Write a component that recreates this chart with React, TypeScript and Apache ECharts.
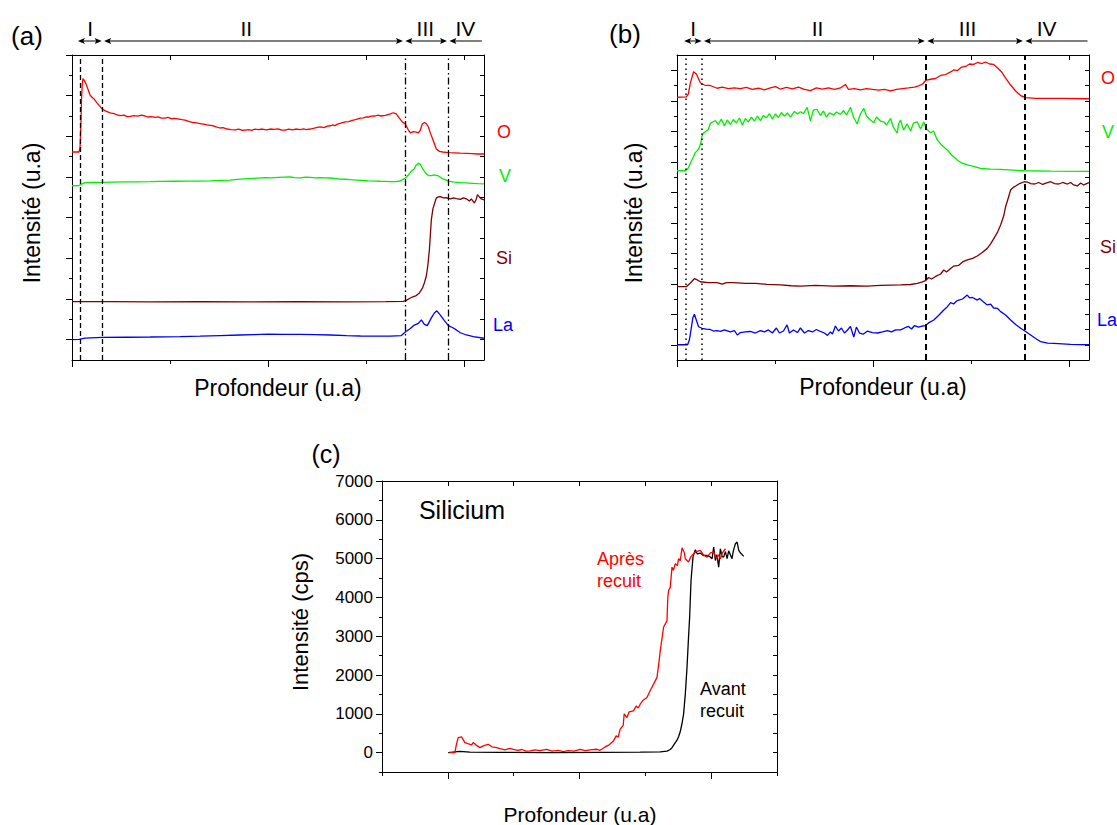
import React, { useEffect, useRef } from "react";
import * as echarts from "echarts";

const FONT = "'Liberation Sans', Arial, Helvetica, sans-serif";
const RED = "#ff0000";
const GREEN = "#00ee00";
const MAROON = "#800000";
const BLUE = "#0000ff";

// ---------- Panel (a): depth (a.u.) vs intensity (a.u., offset) ----------
const aO = [[0,10.23],[7.1,10.23],[8.2,10.45],[9.2,11.8],[9.7,12.8],[10.5,13.6],[11.2,13.84],[12.5,13.75],[14.3,13.58],[16,13.35],[18.4,13.03],[20.4,12.92],[22.4,12.84],[25.5,12.65],[28,12.5],[30.6,12.35],[34,12.25],[38.8,12.15],[43,12.12],[46,12.05],[49,12.02],[53,12.04],[56,11.97],[59.2,11.98],[63,12.02],[67,11.99],[71,12.04],[74.5,12.0],[78,11.95],[81,11.97],[84.7,11.93],[88,11.96],[91,11.9],[94.9,11.9],[98,11.93],[101,11.87],[105.1,11.88],[109,11.85],[112,11.82],[115.3,11.8],[119,11.74],[123.5,11.68],[127,11.66],[130.6,11.63],[134,11.6],[137.8,11.56],[141,11.54],[143.9,11.52],[147,11.47],[151,11.41],[154,11.43],[158.2,11.36],[162,11.33],[166.3,11.32],[170,11.35],[173,11.3],[176.5,11.31],[180,11.33],[183,11.29],[186.7,11.35],[190,11.33],[194,11.36],[198,11.32],[202,11.36],[206,11.34],[210,11.37],[214,11.31],[217.3,11.31],[221,11.35],[225,11.32],[228,11.36],[232.7,11.33],[236,11.37],[239,11.33],[242.9,11.36],[247,11.4],[250,11.44],[253.1,11.46],[257,11.43],[260,11.5],[263.3,11.52],[266,11.56],[268,11.53],[271.4,11.61],[275,11.66],[278.6,11.71],[282,11.72],[285.7,11.78],[289,11.82],[293.9,11.9],[297,11.91],[300,11.96],[302,11.95],[305,11.99],[309.2,12.0],[312,12.04],[315,12.0],[319.4,12.03],[322,12.07],[324.5,12.1],[327.6,12.16],[330.6,12.1],[333.7,11.9],[336.7,11.71],[339.8,11.61],[342.9,11.31],[344.9,11.17],[348,11.23],[351,11.21],[353.1,11.17],[355.1,11.31],[357.1,11.61],[359.2,11.68],[361.2,11.63],[363.3,11.46],[365.3,11.17],[368.4,10.77],[371.4,10.38],[374.5,10.26],[378,10.23],[383.7,10.2],[390,10.19],[395.9,10.17],[402,10.16],[408.2,10.15],[414,10.13],[420,10.13]];
const aV = [[0,8.57],[7.1,8.58],[10.2,8.66],[13.3,8.72],[20,8.73],[30.6,8.74],[40,8.75],[54.1,8.76],[65,8.76],[79.6,8.77],[90,8.78],[105.1,8.79],[118,8.8],[130.6,8.8],[141,8.81],[151,8.83],[161.2,8.85],[171.4,8.9],[183.7,8.93],[196.9,8.97],[203,8.96],[210.2,8.98],[216,8.99],[222.4,9.0],[227,8.97],[232.7,8.96],[238,8.99],[242.9,8.98],[248,8.96],[253.1,8.97],[258,8.96],[263.3,8.95],[268,8.93],[273.5,8.9],[278,8.89],[283.7,8.87],[290,8.85],[296,8.83],[302,8.81],[309.2,8.8],[314,8.79],[319.4,8.78],[324,8.77],[329.6,8.77],[333,8.79],[334.7,8.82],[337,8.87],[339.8,8.95],[342.9,9.1],[344.9,9.23],[347,9.33],[349,9.41],[351,9.59],[353.1,9.68],[355.1,9.62],[357.1,9.44],[360.2,9.21],[363.3,9.07],[366.3,9.07],[369.4,9.1],[373.5,9.05],[377.6,8.92],[383.7,8.8],[389.8,8.75],[395.9,8.72],[402,8.71],[408.2,8.69],[414,8.67],[420,8.66]];
const aSi = [[0,2.87],[40,2.87],[80,2.86],[130.6,2.87],[180,2.86],[230,2.87],[280,2.86],[320,2.87],[337.8,2.88],[340.8,2.93],[344.9,3.05],[348,3.12],[351,3.17],[354.1,3.3],[357.1,3.52],[359.2,3.79],[361.2,4.13],[362.8,4.67],[364.3,5.41],[365.3,6.15],[366.3,6.89],[367.9,7.43],[369.4,7.67],[371.4,7.97],[373.5,8.02],[375.5,8.03],[378.6,7.97],[381.6,7.99],[383.5,7.95],[385.7,7.92],[388.8,7.97],[391.8,7.94],[395.9,7.9],[399,7.97],[402,7.93],[405.1,7.82],[407.1,7.92],[410.2,7.72],[412.2,7.92],[413.3,8.13],[415.3,8.02],[417.3,7.92],[420,7.87]];
const aLa = [[0,1.0],[7.1,1.01],[13.3,1.08],[30.6,1.11],[55,1.12],[79.6,1.13],[110.2,1.15],[130.6,1.17],[151,1.2],[171.4,1.23],[185,1.25],[200,1.27],[215,1.26],[232.7,1.26],[248,1.25],[263.3,1.23],[280,1.2],[293.9,1.18],[310,1.17],[324.5,1.17],[335.7,1.2],[339.8,1.38],[344.9,1.55],[349,1.72],[353.1,1.8],[356.1,1.97],[359.2,1.75],[362.2,1.69],[366.3,2.07],[369.4,2.31],[371.9,2.42],[375.5,2.21],[379.6,1.94],[383.7,1.69],[387.8,1.6],[391.8,1.48],[395.9,1.34],[402,1.23],[409.2,1.15],[420,1.07]];
const aDashed = [8.2, 30.9];
const aDashDot = [339.8, 384];
const aRegionBounds = [4.8, 31.5, 338.6, 383.5, 419];
const aRegionLabelX = [18.4, 177.6, 360.2, 401];

// ---------- Panel (b) ----------
const bO = [[0,17.23],[9.5,17.25],[11.5,17.44],[13.6,18.16],[16.9,18.9],[19.7,18.75],[23.8,18.18],[27.9,18.03],[34,18.0],[40.8,17.82],[46.2,17.9],[52.3,17.8],[58.5,17.84],[64.6,17.8],[70.7,17.87],[76.8,17.74],[83,17.82],[89.1,17.72],[95.2,17.84],[100.3,17.93],[105.4,17.77],[111.5,17.87],[117.7,17.78],[123.8,17.9],[129.9,17.74],[136,17.67],[142.1,17.84],[148.3,17.76],[154.4,17.85],[160.5,17.74],[166.6,17.84],[171.7,18.07],[174.8,17.74],[180.9,17.8],[187,17.72],[193.2,17.8],[199.3,17.74],[205.4,17.7],[211.5,17.74],[217.7,17.64],[223.8,17.74],[229.9,17.8],[236,17.84],[242.1,17.9],[246.2,17.97],[250.3,18.1],[253.4,18.33],[258.5,18.41],[263.6,18.46],[268.7,18.66],[273.8,18.72],[278.9,18.89],[282,19.02],[286,18.98],[290.1,19.21],[294.2,19.25],[298.3,19.41],[302.4,19.38],[306.4,19.51],[310.5,19.44],[314.6,19.54],[318.7,19.41],[322.8,19.38],[326.8,19.15],[330.9,18.89],[335,18.49],[340.1,18.03],[345.2,17.64],[350.3,17.34],[355.4,17.2],[365.6,17.16],[391.1,17.15],[420,17.13]];
const bV = [[0,12.41],[8.5,12.41],[11.5,12.59],[13.6,12.9],[16.6,13.31],[18.7,13.6],[22,13.82],[24.3,14.23],[25.5,14.69],[26.8,14.87],[28.9,14.97],[31.9,15.11],[34,15.52],[37.1,15.64],[39.1,15.69],[42.1,15.44],[45.2,15.8],[48.3,15.34],[51.3,15.74],[54.4,15.44],[57.4,15.77],[60.5,15.54],[63.6,15.87],[66.6,15.41],[69.7,15.84],[72.8,15.61],[75.8,15.93],[78.9,15.67],[82,16.0],[85,15.7],[88.1,16.03],[91.1,15.87],[94.2,16.16],[97.2,15.8],[100.3,16.13],[103.4,15.9],[106.4,16.23],[109.5,16.0],[112.6,16.2],[115.6,15.93],[119.7,16.3],[122.8,16.13],[125.8,16.28],[128.9,16.16],[132.7,16.57],[136,15.69],[139.1,16.39],[142.8,16.43],[146.2,16.03],[149.3,16.33],[152.3,15.93],[155.4,16.2],[159.5,16.07],[162.6,16.26],[166.6,16.1],[169.7,16.36],[172.8,16.07],[176.8,16.57],[179.9,15.93],[183.6,15.48],[187,16.13],[190.4,16.5],[193.2,16.0],[197.2,15.74],[200.6,15.56],[203.4,15.93],[207.4,15.67],[210.8,15.62],[213.6,15.41],[217.7,15.84],[220.7,15.25],[224.5,14.87],[225.8,15.48],[227.9,15.74],[230.9,15.08],[234.7,15.48],[238.1,15.02],[241.1,15.54],[244.9,15.62],[248.3,15.15],[251.6,15.61],[254.4,15.15],[258.5,14.9],[261.5,15.02],[265.3,14.43],[269.7,14.1],[275.5,13.77],[280,13.44],[285.7,13.11],[290.1,12.92],[295.9,12.79],[301.3,12.72],[309.5,12.57],[319.7,12.52],[329.9,12.5],[353.7,12.41],[381,12.39],[420,12.37]];
const bSi = [[0,4.81],[9.5,4.81],[13.6,5.05],[17.7,5.33],[20.7,5.25],[23.8,5.13],[31.9,5.08],[40.8,5.07],[46.2,4.98],[50.3,5.08],[57.4,5.07],[69.7,5.02],[79.9,5.03],[91.8,4.96],[105.4,4.92],[116.5,4.87],[125.8,4.85],[141.1,4.89],[159.5,4.85],[176.8,4.87],[193.7,4.85],[207.4,4.89],[227.9,4.92],[238.1,4.95],[244.9,5.03],[249.3,5.11],[253.4,5.2],[256.4,5.41],[259.5,5.31],[263.6,5.48],[268.7,5.64],[271.9,5.9],[274.8,5.77],[278.9,6.0],[282.2,6.16],[287,6.2],[291.1,6.43],[295.9,6.56],[301.3,6.66],[306.1,6.82],[310.5,7.02],[316.3,7.32],[319.7,7.61],[323.1,7.98],[326.8,8.39],[329.9,8.85],[333,9.44],[335,10.05],[337.1,10.49],[340.1,11.15],[343.2,11.34],[345.2,11.41],[349.3,11.57],[353.7,11.69],[357.4,11.67],[360.5,11.57],[364.6,11.54],[368.7,11.64],[372.8,11.51],[376.8,11.61],[381,11.69],[385,11.57],[389.1,11.54],[393.2,11.64],[398,11.54],[401.3,11.64],[404.4,11.48],[408.1,11.41],[411.5,11.61],[414.6,11.48],[420,11.63]];
const bLa = [[0,1.0],[10.8,1.0],[12.6,1.31],[14.6,2.1],[16.1,2.75],[17.7,3.0],[19.7,2.62],[22,2.18],[25.5,2.08],[29.9,2.03],[34,2.0],[37.1,1.9],[40.8,1.92],[44.2,1.87],[48.3,1.97],[54.4,1.84],[58.5,1.93],[61.5,1.64],[64.6,1.8],[69.7,1.84],[74.8,1.87],[79.9,1.77],[85,1.93],[89.1,1.84],[93.2,1.97],[97.2,1.77],[101.3,2.1],[104.4,1.77],[108.5,1.9],[112.2,2.3],[114.6,1.77],[118.7,1.97],[122.8,1.8],[125.8,2.1],[129.9,1.77],[134,1.93],[138.1,1.84],[142.1,2.0],[146.2,1.87],[150.3,1.77],[153.4,1.61],[156.4,1.84],[158.5,1.7],[161.5,2.23],[164.6,1.9],[167.6,2.1],[170.7,1.77],[173.8,1.97],[176.8,2.2],[180.2,1.51],[182.9,2.16],[186,1.77],[190.1,1.7],[194.2,1.9],[199.3,1.8],[204.4,1.77],[209.5,1.84],[214.6,1.93],[218.7,1.84],[222.8,1.97],[227.9,1.97],[232,2.1],[236,2.2],[239.1,2.03],[242.1,2.26],[246.2,2.16],[250.3,2.23],[253.4,2.26],[256.4,2.43],[261.8,2.62],[266.6,2.92],[272,3.28],[274.8,3.44],[278.9,3.76],[282,3.67],[285,3.87],[287.3,3.93],[291.1,4.0],[295.9,4.26],[298.3,4.07],[301.3,4.1],[306.1,3.93],[308.4,4.03],[312.5,3.8],[316.3,3.61],[319.7,3.67],[322.8,3.41],[326.8,3.38],[329.9,3.17],[335,2.95],[340.1,2.62],[345.2,2.33],[350.3,2.08],[355.4,1.87],[360.5,1.64],[365.6,1.41],[370.7,1.2],[377.9,1.11],[384.3,1.09],[401.3,1.03],[420,1.0]];
const bDotted = [8.5, 24.8];
const bDashed = [253.4, 354.4];
const bRegionBounds = [6.1, 26.3, 253.9, 353.9, 419.7];
const bRegionLabelX = [16.6, 143.2, 296.2, 376.8];

// ---------- Panel (c): Si intensity (cps) ----------
const cAvant = [[100.5,0],[110.7,20],[118.3,30],[133.5,10],[179.1,5],[255.2,0],[331.3,5],[392.2,10],[422.7,20],[432.9,40],[437.9,80],[440.5,129],[444,220],[448.1,320],[450.8,420],[453.1,543],[455.7,750],[458.1,992],[460.7,1500],[463.3,2196],[465.7,3000],[467.3,3488],[469.4,4437],[472.4,5039],[475.9,5230],[478.9,5120],[483.5,5142],[488.1,5080],[493.8,5082],[497.3,5060],[501.4,4997],[503.8,5297],[506.4,4950],[508.7,5100],[511.4,4780],[514,5250],[516.6,5050],[519,5039],[521.6,5180],[524.2,5000],[526.6,5200],[529.2,5100],[531.7,4997],[533.7,5200],[536.8,5384],[539.4,5427],[541.9,5211],[544.4,5150],[549.5,5057]];
const cApres = [[102,0],[110.7,0],[112.9,200],[115.7,388],[120.9,405],[125.9,258],[130.4,230],[136.1,198],[138.5,258],[142.6,200],[148.7,129],[154.8,180],[161.3,215],[166.9,150],[174.1,129],[179.1,100],[186.8,70],[194.4,110],[199.4,86],[206.5,60],[212.6,80],[218.7,40],[224.8,43],[232.4,70],[240,50],[250.2,86],[258.3,40],[267.4,60],[275.5,26],[282.6,50],[291.8,40],[300.8,86],[308.5,50],[316.1,70],[326.3,86],[331.3,60],[338.9,146],[345,200],[351.6,301],[355.7,430],[358.7,400],[361.8,603],[366.4,700],[367.9,1000],[372,904],[375.5,1050],[382,1076],[386.1,1200],[389.2,1150],[392.2,1248],[396.8,1350],[402.4,1421],[407.5,1600],[412.5,1765],[417.7,1938],[420.5,2300],[422.7,2627],[427.7,3230],[432.9,3402],[434.1,4000],[435.4,4177],[437.9,4264],[440.5,4780],[442.5,4700],[445.6,4866],[448.6,4820],[450.5,4997],[453.1,4950],[455.7,5280],[459.2,5150],[460.7,4997],[465.7,4911],[469.1,5050],[473.3,5125],[477.4,5180],[483.5,5211],[488.1,5100],[493.8,5039],[498.8,5150],[503.8,5168],[507.9,5000],[510.9,5100],[514,4997],[517.1,5150],[521.6,5254]];
const cYLabels = [0, 1000, 2000, 3000, 4000, 5000, 6000, 7000];
const cYMinor = [-500, 500, 1500, 2500, 3500, 4500, 5500, 6500];

// ---------- ticks ----------
const abXMajor = [0, 200, 400];
const abXMinor = [100, 300];
const abXTop = [100, 200, 300, 400];
const aYMajor = [1, 3, 5, 7, 9, 11, 13, 15];
const aYMinor = [2, 4, 6, 8, 10, 12, 14];
const aYRight = [1, 2, 3, 4, 5, 6, 7, 8, 9, 10, 11, 12, 13, 14];
const bYMajor = [1, 3, 5, 7, 9, 11, 13, 15, 17, 19];
const bYMinor = [2, 4, 6, 8, 10, 12, 14, 16, 18];
const bYRight = [1, 2, 3, 4, 5, 6, 7, 8, 9, 10, 11, 12, 13, 14, 15, 16, 17, 18, 19];
const cXMajor = [100, 300, 500];
const cXMinor = [0, 200, 400, 600];
const cXTop = [100, 200, 300, 400, 500];

const AX = { color: "#000", width: 1 };

function xAxes(grid: number, max: number, major: number[], minor: number[], top: number[]) {
  const base = { gridIndex: grid, type: "value", min: 0, max, axisLabel: { show: false }, splitLine: { show: false } };
  return [
    { ...base, position: "bottom", axisLine: { show: true, onZero: false, lineStyle: AX }, axisTick: { show: true, customValues: major, length: 7, lineStyle: AX } },
    { ...base, position: "bottom", axisLine: { show: false, onZero: false }, axisTick: { show: true, customValues: minor, length: 4, lineStyle: AX } },
    { ...base, position: "top", axisLine: { show: true, onZero: false, lineStyle: AX }, axisTick: { show: true, inside: true, customValues: top, length: 5, lineStyle: AX } },
  ];
}
function yAxes(grid: number, min: number, max: number, major: number[], minor: number[], right: number[], labels?: number[]) {
  const base = { gridIndex: grid, type: "value", min, max, splitLine: { show: false } };
  return [
    {
      ...base, position: "left",
      axisLine: { show: true, onZero: false, lineStyle: AX },
      axisTick: { show: true, customValues: major, length: 6, lineStyle: AX },
      axisLabel: labels
        ? { show: true, customValues: labels, formatter: (v: number) => String(v), color: "#000", fontSize: 17, fontFamily: FONT, margin: 9 }
        : { show: false },
    },
    { ...base, position: "left", axisLine: { show: false, onZero: false }, axisTick: { show: true, customValues: minor, length: 3, lineStyle: AX }, axisLabel: { show: false } },
    { ...base, position: "right", axisLine: { show: true, onZero: false, lineStyle: AX }, axisTick: { show: true, inside: true, customValues: right, length: 4, lineStyle: AX }, axisLabel: { show: false } },
  ];
}

function line(name: string, data: number[][], color: string, g: number, extra: any = {}) {
  return {
    name, type: "line", data, xAxisIndex: g * 3, yAxisIndex: g * 3,
    symbol: "none", showSymbol: false, silent: true,
    lineStyle: { color, width: 1.3 }, itemStyle: { color },
    ...extra,
  };
}
function vlines(values: number[], style: any) {
  return values.map((v) => ({ xAxis: v, lineStyle: style }));
}

function buildOption() {
  const dash = { color: "#000", width: 1.3, type: [5, 3] };
  const dashDot = { color: "#000", width: 1.3, type: [7, 3, 1.5, 3] };
  const dotted = { color: "#000", width: 1.5, type: [1.5, 3.5] };
  const dashThick = { color: "#000", width: 2, type: [6, 4] };
  const ml = (data: any[]) => ({ silent: true, symbol: ["none", "none"], label: { show: false }, emphasis: { disabled: true }, data });
  return {
    animation: false,
    backgroundColor: "#fff",
    grid: [
      { left: 72, top: 55, width: 412, height: 305 },
      { left: 677, top: 55, width: 412, height: 305 },
      { left: 382, top: 481, width: 395, height: 291 },
    ],
    xAxis: [
      ...xAxes(0, 420, abXMajor, abXMinor, abXTop),
      ...xAxes(1, 420, abXMajor, abXMinor, abXTop),
      ...xAxes(2, 600, cXMajor, cXMinor, cXTop),
    ],
    yAxis: [
      ...yAxes(0, 0, 15, aYMajor, aYMinor, aYRight),
      ...yAxes(1, 0, 20, bYMajor, bYMinor, bYRight),
      ...yAxes(2, -500, 7000, cYLabels, cYMinor, [...cYLabels, ...cYMinor], cYLabels),
    ],
    series: [
      line("O (a)", aO, RED, 0, { markLine: ml([...vlines(aDashed, dash), ...vlines(aDashDot, dashDot)]) }),
      line("V (a)", aV, GREEN, 0),
      line("Si (a)", aSi, MAROON, 0),
      line("La (a)", aLa, BLUE, 0),
      line("O (b)", bO, RED, 1, { markLine: ml([...vlines(bDotted, dotted), ...vlines(bDashed, dashThick)]) }),
      line("V (b)", bV, GREEN, 1),
      line("Si (b)", bSi, MAROON, 1),
      line("La (b)", bLa, BLUE, 1),
      line("Avant recuit", cAvant, "#000", 2),
      line("Après recuit", cApres, RED, 2),
    ],
  };
}

function txt(text: string, x: number, y: number, size: number, color = "#000", extra: any = {}) {
  return {
    type: "text", x, y, silent: true, ...extra,
    style: { text, fill: color, fontSize: size, fontFamily: FONT, align: "center", verticalAlign: "middle", textAlign: "center", textVerticalAlign: "middle", ...(extra.style || {}) },
  };
}

function buildGraphics(chart: any) {
  const els: any[] = [];
  const regionNames = ["I", "II", "III", "IV"];
  const arrows = (g: number, bounds: number[], labelX: number[]) => {
    const topY = chart.convertToPixel({ yAxisIndex: g * 3 }, g === 0 ? 15 : 20);
    const Y = topY - 14;
    const toPx = (v: number) => chart.convertToPixel({ xAxisIndex: g * 3 }, v);
    for (let i = 0; i < bounds.length - 1; i++) {
      const x0 = toPx(bounds[i]) + 1.2;
      const x1 = toPx(bounds[i + 1]) - 1.2;
      const last = i === bounds.length - 2;
      els.push({ type: "line", silent: true, shape: { x1: x0 + 3, y1: Y, x2: last ? x1 : x1 - 3, y2: Y }, style: { stroke: "#000", lineWidth: 1 } });
      els.push({ type: "polygon", silent: true, shape: { points: [[x0, Y], [x0 + 7, Y - 3], [x0 + 5.5, Y], [x0 + 7, Y + 3]] }, style: { fill: "#000" } });
      if (!last) {
        els.push({ type: "polygon", silent: true, shape: { points: [[x1, Y], [x1 - 7, Y - 3], [x1 - 5.5, Y], [x1 - 7, Y + 3]] }, style: { fill: "#000" } });
      }
      els.push(txt(regionNames[i], toPx(labelX[i]), Y - 13, 21));
    }
  };
  arrows(0, aRegionBounds, aRegionLabelX);
  arrows(1, bRegionBounds, bRegionLabelX);

  // panel tags
  els.push(txt("(a)", 27, 36, 26));
  els.push(txt("(b)", 625, 34, 26));
  els.push(txt("(c)", 326, 454, 25));

  // axis titles
  const rot = { rotation: Math.PI / 2 };
  els.push(txt("Intensité (u.a)", 32, 213, 23, "#000", rot));
  els.push(txt("Profondeur (u.a)", 278, 388, 23));
  els.push(txt("Intensité (u.a)", 634, 213, 23, "#000", rot));
  els.push(txt("Profondeur (u.a)", 883, 387, 23));
  els.push(txt("Intensité (cps)", 300, 622, 22, "#000", rot));
  els.push(txt("Profondeur (u.a)", 580, 814, 21));

  // element labels
  els.push(txt("O", 504, 132, 18, RED));
  els.push(txt("V", 505, 176, 18, GREEN));
  els.push(txt("Si", 504, 258, 18, MAROON));
  els.push(txt("La", 503, 325, 18, BLUE));
  els.push(txt("O", 1108, 78, 18, RED));
  els.push(txt("V", 1108, 132, 18, GREEN));
  els.push(txt("Si", 1108, 247, 18, MAROON));
  els.push(txt("La", 1107, 320, 18, BLUE));

  // panel (c) annotations
  els.push(txt("Silicium", 462, 510, 25));
  els.push({ type: "text", x: 597, y: 548, silent: true, style: { text: "Après\nrecuit", fill: RED, fontSize: 18, fontFamily: FONT, lineHeight: 22, align: "left", verticalAlign: "top", textAlign: "left", textVerticalAlign: "top" } });
  els.push({ type: "text", x: 700, y: 678, silent: true, style: { text: "Avant\nrecuit", fill: "#000", fontSize: 18, fontFamily: FONT, lineHeight: 22, align: "left", verticalAlign: "top", textAlign: "left", textVerticalAlign: "top" } });
  return els;
}

export default function App() {
  const ref = useRef<HTMLDivElement>(null);
  useEffect(() => {
    const chart = echarts.init(ref.current!, null, { renderer: "svg" });
    chart.setOption(buildOption() as any);
    chart.setOption({ graphic: buildGraphics(chart) } as any);
    return () => chart.dispose();
  }, []);
  return (
    <div
      ref={ref}
      style={{ position: "absolute", left: 0, top: 0, width: 1117, height: 825, background: "#fff" }}
    />
  );
}
